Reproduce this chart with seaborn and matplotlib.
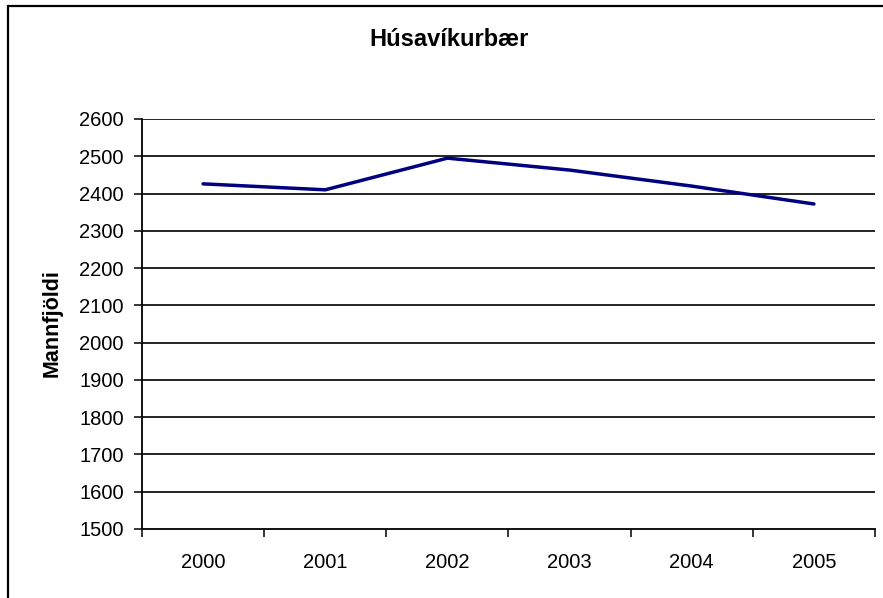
import matplotlib.pyplot as plt
import matplotlib.lines as mlines
import numpy as np
import seaborn as sns

years = ["2000", "2001", "2002", "2003", "2004", "2005"]
population = [2426, 2410, 2495, 2463, 2420, 2372]
y_ticks = list(range(1500, 2700, 100))

sns.set_theme(style="white")
plt.rcParams["font.family"] = ["Liberation Sans", "DejaVu Sans"]

fig = plt.figure(figsize=(8.83, 5.98), dpi=100)
ax = fig.add_axes([142 / 883, 1 - 529 / 598, 733 / 883, 410 / 598])

sns.lineplot(x=years, y=population, ax=ax, color="#000080", linewidth=2.5, sort=False)

ax.set_ylim(1500, 2600)
ax.set_xlim(-0.5, len(years) - 0.5)
ax.set_yticks(y_ticks)
ax.set_yticklabels([str(v) for v in y_ticks])
for v in y_ticks[1:]:
    ax.axhline(v, color="black", linewidth=1.2, zorder=0)

# category ticks sit between the years, labels at the centres
ax.set_xticks(np.arange(-0.5, len(years), 1.0))
ax.set_xticklabels([])
ax.set_xticks(range(len(years)), minor=True)
ax.set_xticklabels(years, minor=True)
ax.tick_params(axis="x", which="major", length=6, width=1.1, color="black", direction="out", bottom=True)
ax.tick_params(axis="x", which="minor", length=0, pad=17, labelsize=14.5, labelcolor="black")
ax.tick_params(axis="y", length=6, width=1.1, color="black", direction="out", left=True, pad=7,
               labelsize=14.5, labelcolor="black")

ax.set_xlabel("")
ax.set_ylabel("")
for side in ["top", "right"]:
    ax.spines[side].set_visible(False)
for side in ["left", "bottom"]:
    ax.spines[side].set_color("black")
    ax.spines[side].set_linewidth(1.3)

fig.text(449 / 883, 1 - 40 / 598, "Húsavíkurbær", ha="center", va="center",
         fontsize=17, fontweight="bold", color="black")
fig.text(52 / 883, 1 - 323 / 598, "Mannfjöldi", ha="center", va="center", rotation=90,
         fontsize=15.5, fontweight="bold", color="black")

# chart border (only top and left edges are inside the picture)
fig.add_artist(mlines.Line2D([8 / 883, 8 / 883], [0, 1 - 6 / 598], transform=fig.transFigure,
                             color="black", linewidth=1.6))
fig.add_artist(mlines.Line2D([8 / 883, 1], [1 - 6 / 598, 1 - 6 / 598], transform=fig.transFigure,
                             color="black", linewidth=1.6))

fig.savefig("out.png", dpi=100)
plt.close(fig)
